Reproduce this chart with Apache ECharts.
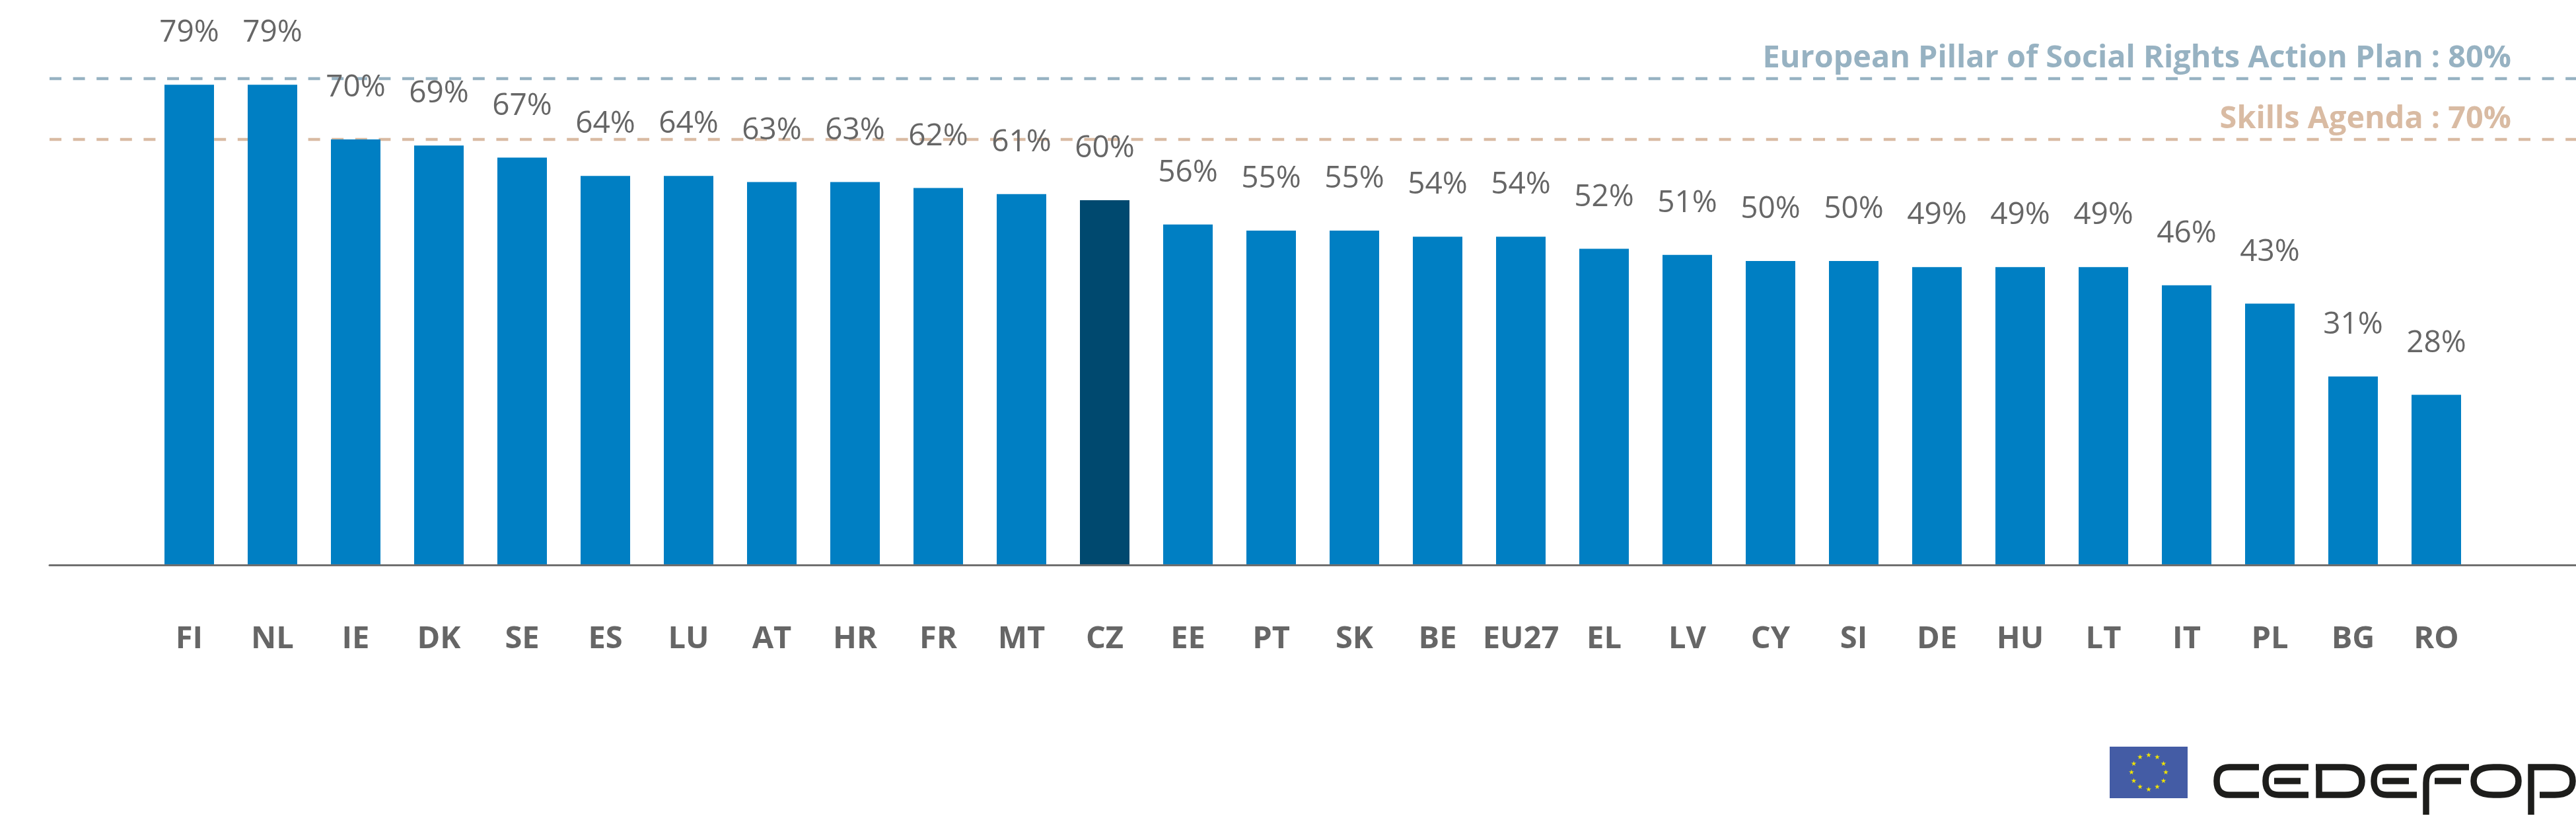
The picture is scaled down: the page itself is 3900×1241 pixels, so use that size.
<!DOCTYPE html>
<html>
<head>
<meta charset="utf-8">
<style>
html, body { margin: 0; padding: 0; background: #fff; }
#chart { width: 3900px; height: 1241px; }
</style>
<script src="https://cdn.jsdelivr.net/npm/echarts@6/dist/echarts.min.js"></script>
</head>
<body>
<div id="chart"></div>
<script>
var countries = ['FI','NL','IE','DK','SE','ES','LU','AT','HR','FR','MT','CZ','EE','PT','SK','BE','EU27','EL','LV','CY','SI','DE','HU','LT','IT','PL','BG','RO'];
var values = [79,79,70,69,67,64,64,63,63,62,61,60,56,55,55,54,54,52,51,50,50,49,49,49,46,43,31,28];
var highlight = 'CZ';

var barData = values.map(function (v, i) {
    return {
        value: v,
        itemStyle: { color: countries[i] === highlight ? '#00496f' : '#007fc3' }
    };
});

function targetLine(value, color) {
    return {
        type: 'line',
        xAxisIndex: 1,
        yAxisIndex: 1,
        z: 1,
        silent: true,
        symbol: 'none',
        lineStyle: { color: color, width: 4.5, type: [18, 17.6] },
        data: [[0, value], [1, value]]
    };
}

function targetText(text, y, color) {
    return {
        type: 'text',
        z: 10,
        style: {
            text: text,
            x: 3802,
            y: y,
            textAlign: 'right',
            textVerticalAlign: 'bottom',
            fill: color,
            fontFamily: 'Open Sans',
            fontWeight: 700,
            fontSize: 46.8
        }
    };
}

// EU flag and stars
var graphics = [
    targetText('European Pillar of Social Rights Action Plan : 80%', 112, '#97b2c2'),
    targetText('Skills Agenda : 70%', 204, '#d9bba3'),
    { type: 'rect', shape: { x: 3194, y: 1130, width: 118, height: 78 }, style: { fill: '#445ca5' } }
];
for (var i = 0; i < 12; i++) {
    var a = i * Math.PI / 6;
    graphics.push({
        type: 'text',
        style: {
            text: '\u2605',
            x: 3253 + 26 * Math.sin(a),
            y: 1169 - 26 * Math.cos(a),
            textAlign: 'center',
            textVerticalAlign: 'middle',
            fill: '#f2e500',
            fontFamily: 'DejaVu Sans',
            fontSize: 10
        }
    });
}

// CEDEFOP logotype
var logoPaths = [
    'M3420 1161 H3375 Q3356 1161 3356 1182 Q3356 1203 3375 1203 H3420',
    'M3495 1161 H3450 Q3430 1161 3430 1182 Q3430 1203 3450 1203 H3495 M3443 1182 H3483',
    'M3511 1161 V1203 H3550 Q3576 1203 3576 1182 Q3576 1161 3550 1161 H3506',
    'M3659 1161 H3614 Q3594 1161 3594 1182 Q3594 1203 3614 1203 H3659 M3607 1182 H3647',
    'M3738 1161 H3695 Q3673 1161 3673 1185 V1233 M3686 1182 H3726',
    'M3775 1161 H3785 Q3813 1161 3813 1182 Q3813 1203 3785 1203 H3775 Q3745 1203 3745 1182 Q3745 1161 3775 1161 Z',
    'M3832 1233 V1161 H3868 Q3895 1161 3895 1182 Q3895 1203 3868 1203 H3845'
];

var chart = echarts.init(document.getElementById('chart'), null, { renderer: 'canvas' });
chart.setOption({
    animation: false,
    backgroundColor: '#ffffff',
    textStyle: { fontFamily: 'Open Sans' },
    grid: [
        { left: 223.5, right: 148.5, top: 27, height: 828 },
        { left: 75, right: 0, top: 27, height: 828 }
    ],
    xAxis: [
        {
            type: 'category',
            gridIndex: 0,
            data: countries,
            axisLine: { show: false },
            axisTick: { show: false },
            axisLabel: {
                margin: 89,
                interval: 0,
                color: '#666666',
                fontFamily: 'Open Sans',
                fontWeight: 700,
                fontSize: 47
            }
        },
        {
            type: 'value',
            gridIndex: 1,
            min: 0,
            max: 1,
            z: 5,
            splitLine: { show: false },
            axisTick: { show: false },
            axisLabel: { show: false },
            axisLine: { show: true, lineStyle: { color: '#6f6f6f', width: 3 } }
        }
    ],
    yAxis: [
        { type: 'value', gridIndex: 0, min: 0, max: 90, show: false },
        { type: 'value', gridIndex: 1, min: 0, max: 90, show: false }
    ],
    series: [
        targetLine(80, '#97b2c2'),
        targetLine(70, '#d9bba3'),
        {
            type: 'bar',
            xAxisIndex: 0,
            yAxisIndex: 0,
            z: 2,
            barWidth: 75,
            data: barData,
            label: {
                show: true,
                position: 'top',
                distance: 55,
                formatter: '{c}%',
                color: '#666666',
                fontFamily: 'Open Sans',
                fontSize: 46
            }
        },
        {
            type: 'custom',
            coordinateSystem: 'none',
            silent: true,
            data: [0],
            renderItem: function () {
                return {
                    type: 'group',
                    children: logoPaths.map(function (d) {
                        return {
                            type: 'path',
                            shape: { pathData: d },
                            style: { fill: 'none', stroke: '#1d1d1b', lineWidth: 9.5 }
                        };
                    })
                };
            }
        }
    ],
    graphic: graphics
});
</script>
</body>
</html>
